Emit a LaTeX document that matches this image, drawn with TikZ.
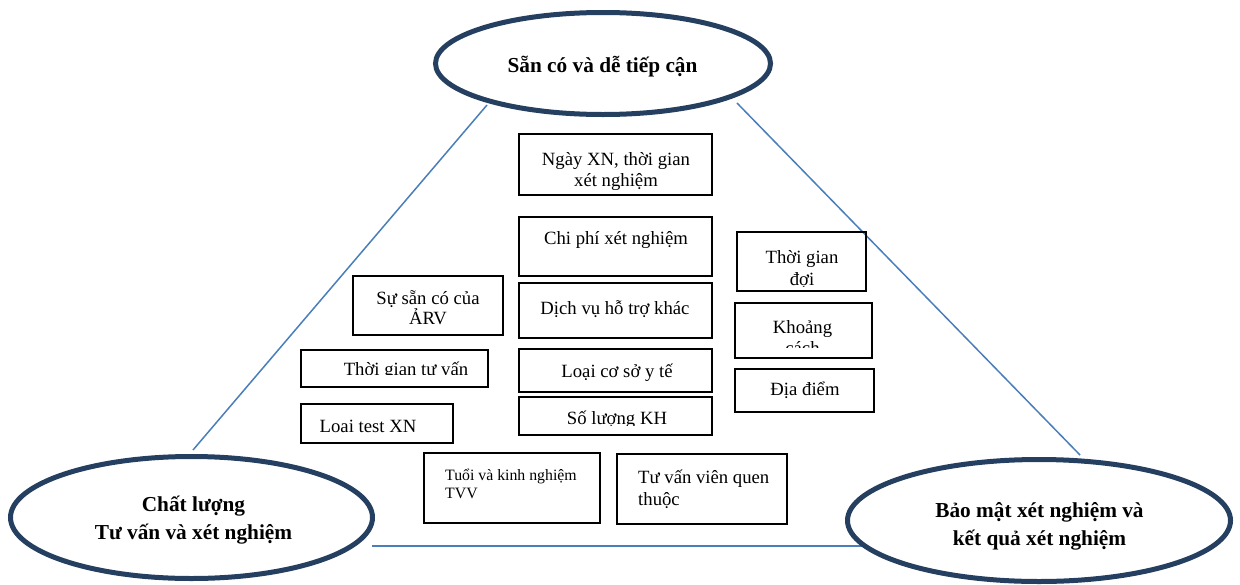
\documentclass[tikz,border=0pt]{standalone}
\usepackage{fontspec}
\setmainfont{Liberation Serif}
\usetikzlibrary{shapes.geometric}
\definecolor{ringblue}{HTML}{243F60}
\definecolor{edgeblue}{HTML}{4A7EBB}

\begin{document}
\begin{tikzpicture}[x=1pt,y=-1pt,
  hub/.style={ellipse, draw=ringblue, line width=5pt, inner sep=0pt},
  side/.style={draw=edgeblue, line width=1.5pt},
  box/.style={rectangle, draw=black, line width=1.1pt, inner sep=0pt},
  lbl/.style={inner sep=0pt, anchor=base, align=center, font=\fontsize{18.7}{21}\selectfont},
  small/.style={inner sep=0pt, anchor=base west, align=left, font=\fontsize{15.8}{18}\selectfont},
  head/.style={inner sep=0pt, anchor=base, align=center, font=\bfseries\fontsize{21.3}{28}\selectfont},
]
\useasboundingbox (0,0) rectangle (1240,584);

% triangle sides (multi-line labels are placed by their last baseline)
\coordinate (l1) at (487,105);
\coordinate (l2) at (193,450);
\coordinate (r1) at (737,103);
\coordinate (r2) at (1080,455);
\coordinate (b1) at (372,546);
\coordinate (b2) at (862,546);
\draw[side] (l1) -- (l2);
\draw[side] (r1) -- (r2);
\draw[side] (b1) -- (b2);

% the three corner ellipses
\node[hub, minimum width=335pt, minimum height=102pt] (T) at (603,63.5) {};
\node[hub, minimum width=362pt, minimum height=122pt] (L) at (191.5,517.5) {};
\node[hub, minimum width=383pt, minimum height=122pt] (R) at (1039,520.5) {};
\node[head] (Ttxt) at (602.5,72.7) {Sẵn có và dễ tiếp cận};
\node[head] (Ltxt) at (193.5,539.4) {Chất lượng\\Tư vấn và xét nghiệm};
\node[head] (Rtxt) at (1039.5,545) {Bảo mật xét nghiệm và\\kết quả xét nghiệm};

% factor boxes
\node[box, minimum width=193pt, minimum height=61pt] (f1) at (615.5,164.5) {};
\node[box, minimum width=193pt, minimum height=59pt] (f2) at (615.5,246.5) {};
\node[box, minimum width=193pt, minimum height=55pt] (f3) at (615.5,310.5) {};
\node[box, minimum width=193pt, minimum height=43pt] (f4) at (615.5,370.5) {};
\node[box, minimum width=193pt, minimum height=38pt] (f5) at (615.5,416) {};
\node[box, minimum width=150pt, minimum height=59pt] (f6) at (428,305.5) {};
\node[box, minimum width=187pt, minimum height=37pt] (f7) at (394.5,368.5) {};
\node[box, minimum width=152pt, minimum height=39pt] (f8) at (377,423.5) {};
\node[box, minimum width=129pt, minimum height=59pt] (f9) at (801.5,261.5) {};
\node[box, minimum width=137pt, minimum height=55pt] (f10) at (803.5,330.5) {};
\node[box, minimum width=139pt, minimum height=43pt] (f11) at (804.5,390.5) {};
\node[box, minimum width=176pt, minimum height=70pt] (f12) at (512,488) {};
\node[box, minimum width=170pt, minimum height=70pt] (f13) at (702,489) {};

% box labels; some are cut off by their text frames
\node[lbl] (t1) at (616,186) {Ngày XN, thời gian\\xét nghiệm};
\node[lbl] (t2) at (616,244) {Chi phí xét nghiệm};
\node[lbl] (t3) at (615,314) {Dịch vụ hỗ trợ khác};
\node[lbl] (t4) at (617,377.5) {Loại cơ sở y tế};
\begin{scope}
  \clip (519,397) rectangle (712,425);
  \node[lbl] (t5) at (617,424.5) {Số lượng KH};
\end{scope}
\node[lbl, font=\fontsize{18.7}{20}\selectfont] (t6) at (428,324) {Sự sẵn có của\\ẢRV};
\begin{scope}
  \clip (301,350) rectangle (488,374.5);
  \node[lbl] (t7) at (406,375.5) {Thời gian tư vấn};
\end{scope}
\node[lbl] (t8) at (368,432.5) {Loai test XN};
\begin{scope}
  \clip (737,232) rectangle (866,286.3);
  \node[lbl, font=\fontsize{18.7}{22}\selectfont] (t9) at (802,285.5) {Thời gian\\đợi};
\end{scope}
\begin{scope}
  \clip (735,303) rectangle (872,347);
  \node[lbl] (t10) at (802.5,354) {Khoảng\\cách};
\end{scope}
\node[lbl] (t11) at (805,395.5) {Địa điểm};
\node[small] (t12) at (445,498.5) {Tuổi và kinh nghiệm\\TVV};
\node[lbl, anchor=base west, align=left, font=\fontsize{18.7}{22}\selectfont] (t13) at (638,505) {Tư vấn viên quen\\thuộc};
\end{tikzpicture}
\end{document}
